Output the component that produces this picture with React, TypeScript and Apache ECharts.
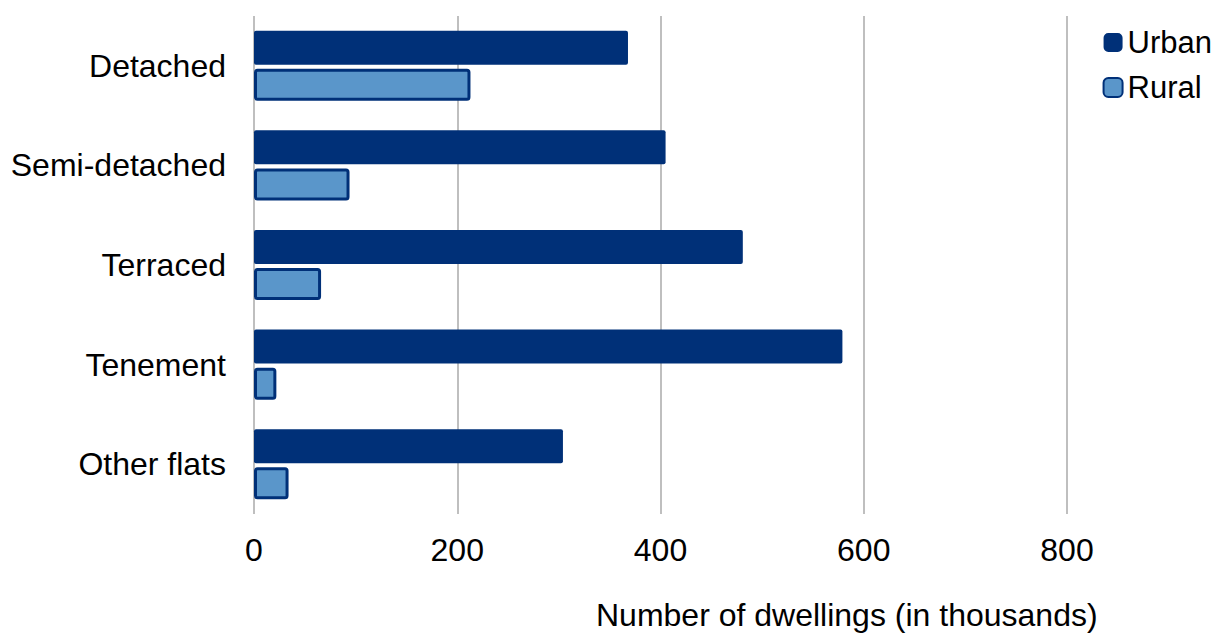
import React, { useEffect, useRef } from "react";
import * as echarts from "echarts";

// Dwelling types, top to bottom
const categories = ["Detached", "Semi-detached", "Terraced", "Tenement", "Other flats"];
// Number of dwellings, thousands
const urban = [368, 405, 481, 579, 304];
const rural = [213, 94, 66, 22, 34];
const xTicks = [0, 200, 400, 600, 800];

const FONT = "'Liberation Sans', Arial, sans-serif";
const DARK = "#003078";
const LIGHT = "#5A96CA";

export default function App() {
  const ref = useRef<HTMLDivElement>(null);

  useEffect(() => {
    if (!ref.current) return;
    const chart = echarts.init(ref.current, null, { renderer: "svg" });
    chart.setOption({
      animation: false,
      backgroundColor: "#ffffff",
      textStyle: { fontFamily: FONT },
      grid: { left: 254, right: 152, top: 16, bottom: 123, containLabel: false },
      legend: {
        orient: "vertical",
        right: 2,
        top: 22,
        itemWidth: 19,
        itemHeight: 19,
        itemGap: 14,
        icon: "roundRect",
        textStyle: { fontFamily: FONT, fontSize: 31, color: "#000" },
        data: ["Urban", "Rural"],
      },
      xAxis: {
        type: "value",
        min: xTicks[0],
        max: xTicks[xTicks.length - 1],
        interval: 200,
        axisLine: { show: false },
        axisTick: { show: false },
        axisLabel: { fontFamily: FONT, fontSize: 32, color: "#000", margin: 20 },
        splitLine: { show: true, lineStyle: { color: "#BFBFBF", width: 2 } },
      },
      yAxis: {
        type: "category",
        inverse: true,
        data: categories,
        axisLine: { show: false },
        axisTick: { show: false },
        axisLabel: { fontFamily: FONT, fontSize: 32, color: "#000", margin: 28 },
      },
      graphic: [
        {
          type: "text",
          left: 596,
          top: 599,
          style: {
            text: "Number of dwellings (in thousands)",
            fontFamily: FONT,
            fontSize: 32,
            fill: "#000",
          },
        },
      ],
      series: [
        {
          name: "Urban",
          type: "bar",
          data: urban,
          barWidth: 34,
          barGap: "12%",
          itemStyle: { color: DARK, borderRadius: 2 },
        },
        {
          name: "Rural",
          type: "bar",
          data: rural,
          barWidth: 32,
          itemStyle: { color: LIGHT, borderColor: DARK, borderWidth: 3, borderRadius: 2 },
        },
      ],
    });
    return () => chart.dispose();
  }, []);

  return (
    <div
      ref={ref}
      style={{ position: "fixed", left: 0, top: 0, width: 1219, height: 637, background: "#fff" }}
    />
  );
}
